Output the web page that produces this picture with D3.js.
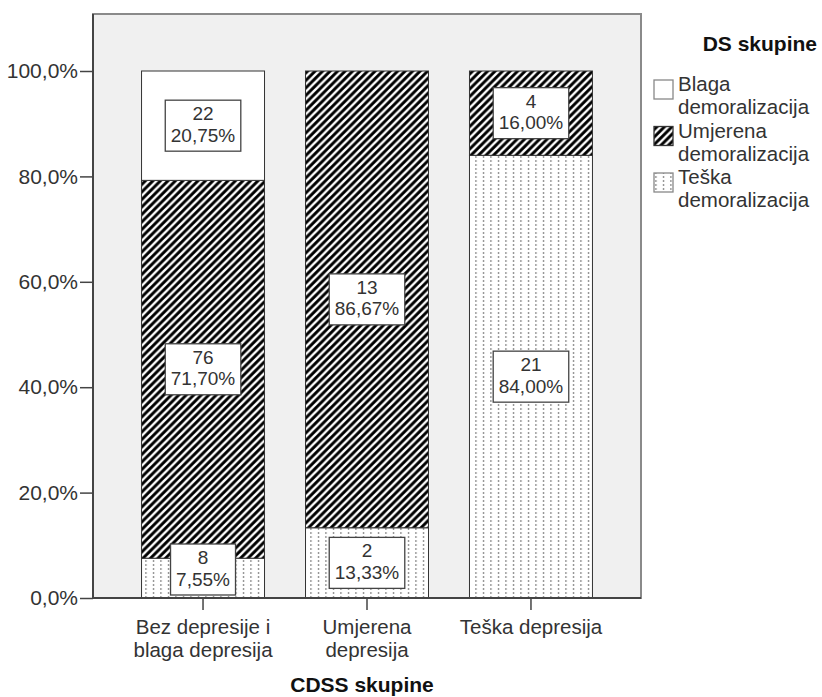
<!DOCTYPE html>
<html><head><meta charset="utf-8">
<script src="https://cdn.jsdelivr.net/npm/d3@7"></script>
<style>body{margin:0;background:#fff}svg text{font-family:"Liberation Sans",Arial,sans-serif}</style>
</head><body>
<svg id="c" width="822" height="697"></svg>
<script>
// ---- data ----
const categories = ["Bez depresije i\nblaga depresija", "Umjerena\ndepresija", "Teška depresija"];
const seriesKeys = ["Teška", "Umjerena", "Blaga"]; // stacking order bottom->top
const legendLabels = ["Blaga\ndemoralizacija", "Umjerena\ndemoralizacija", "Teška\ndemoralizacija"];
const legendKeys = ["Blaga", "Umjerena", "Teška"];
const countsTeska    = [8, 2, 21];
const countsUmjerena = [76, 13, 4];
const countsBlaga    = [22, 0, 0];
const pctTeska    = [7.55, 13.33, 84.00];
const pctUmjerena = [71.70, 86.67, 16.00];
const pctBlaga    = [20.75, 0, 0];
const yTicks = [0, 20, 40, 60, 80, 100];

const rows = categories.map((c, i) => ({
  cat: c,
  "Teška": pctTeska[i], "Umjerena": pctUmjerena[i], "Blaga": pctBlaga[i],
  n: {"Teška": countsTeska[i], "Umjerena": countsUmjerena[i], "Blaga": countsBlaga[i]}
}));

const svg = d3.select("#c");
const frame = {x0: 93, x1: 641, y0: 14, y1: 598};
const FS = 20.5, LFS = 19;
const FF = '"Liberation Sans",Arial,sans-serif';

const defs = svg.append("defs");
const hatch = defs.append("pattern").attr("id", "hatch").attr("patternUnits", "userSpaceOnUse")
  .attr("width", 7.5).attr("height", 7.5);
hatch.append("rect").attr("width", 7.5).attr("height", 7.5).attr("fill", "#000");
hatch.append("path").attr("d", "M-1,1 l2,-2 M0,7.5 l7.5,-7.5 M6.5,8.5 l2,-2")
  .attr("stroke", "#fff").attr("stroke-width", 2.4);
const dots = defs.append("pattern").attr("id", "dots").attr("patternUnits", "userSpaceOnUse")
  .attr("width", 7.5).attr("height", 4);
dots.append("rect").attr("width", 7.5).attr("height", 4).attr("fill", "#fff");
dots.append("rect").attr("x", 3).attr("y", 0).attr("width", 1).attr("height", 2).attr("fill", "#666");

const fills = {"Blaga": "#fff", "Umjerena": "url(#hatch)", "Teška": "url(#dots)"};

// plot background
svg.append("rect").attr("x", frame.x0).attr("y", frame.y0)
  .attr("width", frame.x1 - frame.x0).attr("height", frame.y1 - frame.y0)
  .attr("fill", "#f0f0f0").attr("stroke", "#8a8a8a").attr("stroke-width", 2);

const x = d3.scaleBand().domain(categories).range([frame.x0, frame.x1])
  .paddingInner(0.25).paddingOuter(0.296);
const y = d3.scaleLinear().domain([0, 100]).range([frame.y1, 71]);

const stack = d3.stack().keys(seriesKeys)(rows);

// bars
stack.forEach(layer => {
  svg.append("g").selectAll("rect").data(layer).join("rect")
    .filter(d => d[1] - d[0] > 0)
    .attr("x", d => x(d.data.cat))
    .attr("width", x.bandwidth())
    .attr("y", d => y(d[1]))
    .attr("height", d => y(d[0]) - y(d[1]))
    .attr("fill", fills[layer.key])
    .attr("stroke", "#333").attr("stroke-width", 1);
});

// labels
const fmt = v => v.toFixed(2).replace(".", ",") + "%";
stack.forEach(layer => {
  layer.forEach(d => {
    if (d[1] - d[0] <= 0) return;
    const cx = x(d.data.cat) + x.bandwidth() / 2;
    const g = svg.append("g");
    const t = g.append("text").attr("text-anchor", "middle").attr("font-size", LFS).attr("fill", "#333");
    t.append("tspan").attr("x", cx).attr("dy", 0).text(d.data.n[layer.key]);
    t.append("tspan").attr("x", cx).attr("dy", 21.5).text(fmt(d.data[layer.key]));
    const bb = t.node().getBBox();
    const w = bb.width + 11, h = 51;
    let cy = (y(d[0]) + y(d[1])) / 2;
    cy = Math.min(cy, frame.y1 - 3 - h / 2);
    g.insert("rect", "text").attr("x", cx - w / 2).attr("y", cy - h / 2)
      .attr("width", w).attr("height", h).attr("fill", "#fff")
      .attr("stroke", "#444").attr("stroke-width", 1.3);
    t.attr("transform", `translate(0,${cy - h / 2 + 20})`);
  });
});

// y axis
const yAxis = svg.append("g").attr("transform", `translate(${frame.x0},0)`)
  .call(d3.axisLeft(y).tickValues(yTicks).tickSize(13).tickPadding(2)
    .tickFormat(v => v.toFixed(1).replace(".", ",") + "%"));
yAxis.select(".domain").attr("stroke", "#444").attr("stroke-width", 2)
  .attr("d", `M0,${frame.y0}V${frame.y1}`);
yAxis.selectAll(".tick line").attr("stroke", "#444").attr("stroke-width", 1.5);
yAxis.selectAll(".tick text").attr("font-size", 21).attr("fill", "#333")
  .style("font-family", FF);

// x axis
const xAxis = svg.append("g").attr("transform", `translate(0,${frame.y1})`)
  .call(d3.axisBottom(x).tickSize(12).tickFormat(""));
xAxis.select(".domain").attr("stroke", "#444").attr("stroke-width", 2)
  .attr("d", `M${frame.x0},0H${frame.x1}`);
xAxis.selectAll(".tick line").attr("stroke", "#444").attr("stroke-width", 1.5);
xAxis.selectAll(".tick").each(function(d) {
  const t = d3.select(this).append("text").attr("text-anchor", "middle")
    .attr("font-size", FS).attr("fill", "#333").attr("y", 36).style("font-family", FF);
  d.split("\n").forEach((line, i) => {
    t.append("tspan").attr("x", 0).attr("dy", i === 0 ? 0 : 23).text(line);
  });
});

// x axis title
svg.append("text").attr("x", (frame.x0 + frame.x1) / 2 - 5).attr("y", 692)
  .attr("text-anchor", "middle").attr("font-size", 21).attr("font-weight", "bold")
  .attr("fill", "#111").text("CDSS skupine");

// legend
svg.append("text").attr("x", 817).attr("y", 51).attr("text-anchor", "end")
  .attr("font-size", 21).attr("font-weight", "bold").attr("fill", "#111").text("DS skupine");
legendKeys.forEach((k, i) => {
  const yb = 91 + i * 46.5;
  svg.append("rect").attr("x", 654).attr("y", yb - 11).attr("width", 19).attr("height", 19)
    .attr("fill", fills[k]).attr("stroke", k === "Umjerena" ? "#333" : "#888").attr("stroke-width", 1.3);
  const t = svg.append("text").attr("font-size", FS).attr("fill", "#333").attr("y", yb);
  legendLabels[i].split("\n").forEach((line, j) => {
    t.append("tspan").attr("x", 678).attr("dy", j === 0 ? 0 : 23).text(line);
  });
});
</script>
</body></html>
